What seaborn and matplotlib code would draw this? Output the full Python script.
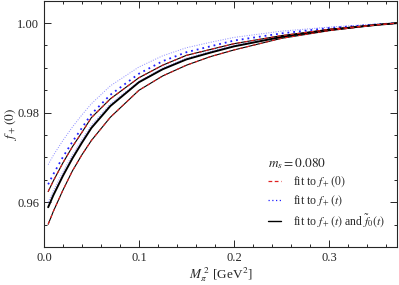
import numpy as np
import pandas as pd
import matplotlib
matplotlib.use("Agg")
import matplotlib.pyplot as plt
import seaborn as sns
from matplotlib.lines import Line2D
from matplotlib.ticker import MultipleLocator, FormatStrFormatter

# M_pi^2 [GeV^2] sample points
mpi2 = [0.0045, 0.01, 0.02, 0.03, 0.04, 0.05, 0.07, 0.10, 0.125, 0.15,
        0.175, 0.20, 0.25, 0.30, 0.35, 0.372]

# fit to f+(t) and f0(t): central and band edges (black)
black_mid = [0.9589, 0.9616, 0.9659, 0.9698, 0.9733, 0.9766, 0.9815, 0.9868,
             0.9897, 0.9919, 0.9934, 0.9948, 0.9969, 0.9985, 0.9996, 1.0]
black_hi = [0.9624, 0.9648, 0.9688, 0.9724, 0.9756, 0.9789, 0.9831, 0.9878,
            0.9906, 0.9928, 0.9941, 0.9954, 0.9972, 0.9986, 0.9996, 1.0]
black_lo = [0.9551, 0.9580, 0.9627, 0.9670, 0.9706, 0.9738, 0.9790, 0.9850,
            0.9882, 0.9906, 0.9925, 0.9940, 0.9966, 0.9983, 0.9996, 1.0]

# fit to f+(t) (blue dotted)
blue_mid = [0.9640, 0.9663, 0.9701, 0.9735, 0.9766, 0.9797, 0.9840, 0.9887,
            0.9915, 0.9935, 0.9948, 0.9961, 0.9977, 0.9989, 0.9997, 1.0]
blue_hi = [0.9684, 0.9705, 0.9738, 0.9768, 0.9795, 0.9820, 0.9860, 0.9902,
           0.9927, 0.9945, 0.9957, 0.9968, 0.9982, 0.9991, 0.9998, 1.0]
blue_lo = [0.9600, 0.9626, 0.9668, 0.9706, 0.9740, 0.9772, 0.9820, 0.9870,
           0.9900, 0.9922, 0.9937, 0.9950, 0.9971, 0.9986, 0.9996, 1.0]

# fit to f+(0) (red dashed) lies on the black band edges
red_hi = black_hi
red_lo = black_lo

sns.set_style("ticks")
plt.rcParams["font.family"] = ["Liberation Serif", "DejaVu Serif"]
plt.rcParams["mathtext.fontset"] = "stix"

fig = plt.figure(figsize=(3.99, 2.85), dpi=100)
ax = fig.add_axes([0.110, 0.133, 0.885, 0.863])

def curve(y, **kw):
    sns.lineplot(x=mpi2, y=y, ax=ax, legend=False, **kw)

curve(blue_hi, color="#8c8cff", lw=0.7, linestyle=(0, (1, 1.5)))
curve(blue_lo, color="#8c8cff", lw=0.7, linestyle=(0, (1, 1.5)))
curve(blue_mid, color="#2020ff", lw=1.3, linestyle=(0, (1, 2.2)))
curve(black_hi, color="black", lw=0.8)
curve(black_lo, color="black", lw=0.8)
curve(black_mid, color="black", lw=1.4)
curve(red_hi, color="#e02020", lw=0.8, linestyle=(0, (3, 3)))
curve(red_lo, color="#e02020", lw=0.8, linestyle=(0, (3, 3)))

ax.set_xlim(0.0, 0.3716)
ax.set_ylim(0.95, 1.0049)
ax.xaxis.set_major_locator(MultipleLocator(0.1))
ax.xaxis.set_minor_locator(MultipleLocator(0.02))
ax.yaxis.set_major_locator(MultipleLocator(0.02))
ax.yaxis.set_minor_locator(MultipleLocator(0.005))
ax.xaxis.set_major_formatter(FormatStrFormatter("%.1f"))
ax.yaxis.set_major_formatter(FormatStrFormatter("%.2f"))
ax.tick_params(which="both", direction="in", top=True, right=True, labelsize=9, width=0.7)
ax.tick_params(which="major", length=5)
ax.tick_params(which="minor", length=2.5)
for s in ax.spines.values():
    s.set_linewidth(0.8)

ax.set_xlabel(r"$M_\pi^{\ 2}$ [GeV$^2$]", fontsize=9.5, labelpad=1)
ax.set_ylabel(r"$f_+(0)$", fontsize=9.5)
ax.yaxis.set_label_coords(-0.07, 0.5)

handles = [
    Line2D([], [], color="#e02020", lw=0.9, linestyle=(0, (3, 2))),
    Line2D([], [], color="#2020ff", lw=0.9, linestyle=(0, (1, 2))),
    Line2D([], [], color="black", lw=1.0),
]
labels = [r"fit to $f_+(0)$", r"fit to $f_+(t)$", r"fit to $f_+(t)$ and $\tilde{f}_0(t)$"]
leg = ax.legend(handles, labels, title=r"$m_s = 0.080$", loc="lower right",
                bbox_to_anchor=(0.995, 0.03), frameon=False, fontsize=8.5,
                title_fontsize=9.5, handlelength=1.1, handletextpad=1.0,
                labelspacing=0.35)
leg._legend_box.align = "left"

fig.savefig("out.png", dpi=100)
